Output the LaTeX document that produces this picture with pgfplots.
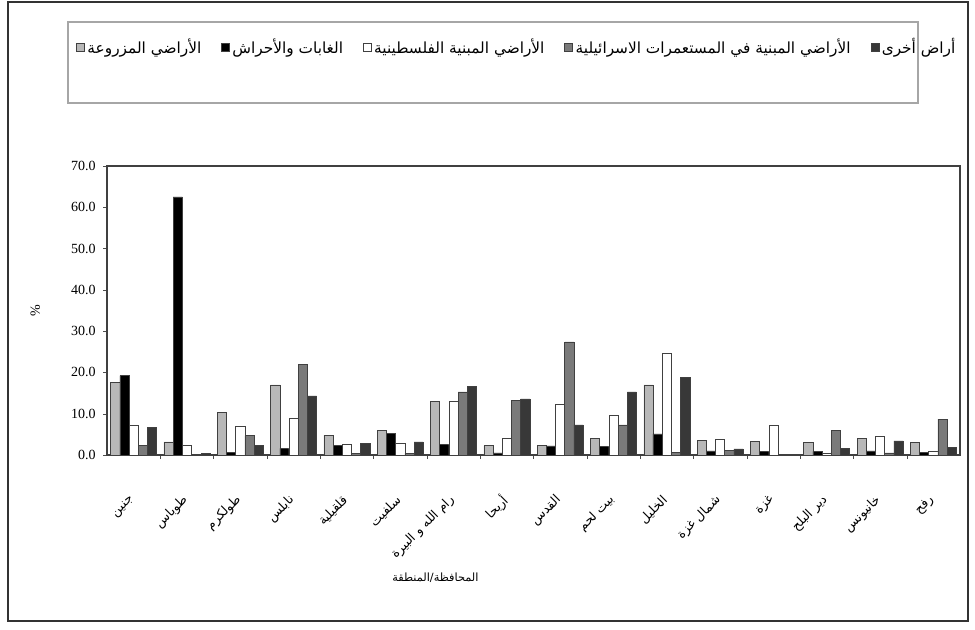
\documentclass[border=0pt]{standalone}
\usepackage{fontspec}
\usepackage{pgfplots}
\usepackage{pgfplotstable}
\pgfplotsset{compat=1.18}
\setmainfont{Liberation Serif}
\newfontfamily\arabicfont[Script=Arabic]{DejaVu Sans}
\TeXXeTstate=1

% Share of each land-use class by governorate (%)
% A: cultivated, B: forests, C: Palestinian built-up,
% D: built-up in Israeli settlements, E: other land
\pgfplotstableread{
idx A    B    C    D    E
0   17.5 19.2 7.1  2.4  6.6
1   3.2  62.5 2.3  0.2  0.3
2   10.3 0.7  6.9  4.7  2.3
3   17.0 1.6  9.0  22.0 14.3
4   4.8  2.4  2.6  0.4  2.8
5   6.0  5.2  2.8  0.4  3.2
6   12.9 2.6  12.9 15.3 16.7
7   2.3  0.5  4.1  13.2 13.6
8   2.4  2.2  12.2 27.4 7.3
9   4.1  2.0  9.7  7.3  15.3
10  17.0 5.1  24.6 0.6  18.8
11  3.6  1.0  3.7  1.1  1.5
12  3.3  0.8  7.1  0.2  0.2
13  3.1  0.9  0.4  6.0  1.6
14  4.0  1.0  4.6  0.5  3.4
15  3.1  0.7  1.0  8.7  1.8
}\landuse

\begin{document}
\begin{tikzpicture}
\path[use as bounding box] (0,0) rectangle (731.25pt,471.75pt);
\draw[black!80, line width=1pt] (6pt,6pt) rectangle (726pt,470.25pt);
% legend frame
\draw[black!35, line width=0.8pt] (51pt,394.5pt) rectangle (688.5pt,455.25pt);
\begin{axis}[
  at={(80.25pt,130.5pt)}, anchor=south west,
  width=639.75pt, height=216.75pt, scale only axis,
  ybar=0pt, bar width=6.9pt,
  xmin=-0.5, xmax=15.5, ymin=0, ymax=70,
  ytick distance=10,
  xtick={0,...,15},
  xticklabels={
    {\arabicfont\beginR جنين\endR},
    {\arabicfont\beginR طوباس\endR},
    {\arabicfont\beginR طولكرم\endR},
    {\arabicfont\beginR نابلس\endR},
    {\arabicfont\beginR قلقيلية\endR},
    {\arabicfont\beginR سلفيت\endR},
    {\arabicfont\beginR رام الله و البيرة\endR},
    {\arabicfont\beginR أريحا\endR},
    {\arabicfont\beginR القدس\endR},
    {\arabicfont\beginR بيت لحم\endR},
    {\arabicfont\beginR الخليل\endR},
    {\arabicfont\beginR شمال غزة\endR},
    {\arabicfont\beginR غزة\endR},
    {\arabicfont\beginR دير البلح\endR},
    {\arabicfont\beginR خانيونس\endR},
    {\arabicfont\beginR رفح\endR}},
  minor xtick={0.5,1.5,...,14.5},
  major x tick style={draw=none},
  tick align=outside,
  xtick pos=bottom, ytick pos=left,
  major tick length=3pt, minor tick length=3pt,
  tick style={black!70},
  axis line style={black!75, line width=0.8pt},
  /pgf/number format/assume math mode=true,
  yticklabel={\pgfmathprintnumber[fixed,fixed zerofill,precision=1]{\tick}},
  yticklabel style={font=\fontsize{10.5}{12}\selectfont, xshift=-2pt},
  xticklabel style={font=\fontsize{9.5}{11}\selectfont, rotate=45, anchor=east, yshift=-20pt, xshift=-18pt},
  ylabel={\%},
  every axis y label/.style={at={(axis description cs:-0.084,0.5)}, anchor=center, rotate=90, font=\fontsize{10.5}{12}\selectfont},
  xlabel={\arabicfont\beginR المحافظة/المنطقة\endR},
  every axis x label/.style={at={(axis description cs:0.385,-0.425)}, anchor=center, font=\fontsize{8.5}{10}\selectfont},
  legend columns=5,
  legend style={at={(axis description cs:-0.041,1.412)}, anchor=west, draw=none, fill=none,
    font=\fontsize{11.5}{13}\selectfont, /tikz/every even column/.append style={column sep=13pt}},
  legend image code/.code={\draw[#1] (0pt,-3pt) rectangle (6pt,3pt);},
  every axis plot/.append style={draw=black!75, line width=0.4pt},
]
\addplot[fill=black!28] table[x=idx,y=A]{\landuse};
\addplot[fill=black] table[x=idx,y=B]{\landuse};
\addplot[fill=white] table[x=idx,y=C]{\landuse};
\addplot[fill=black!52] table[x=idx,y=D]{\landuse};
\addplot[fill=black!78] table[x=idx,y=E]{\landuse};
\legend{
  {\arabicfont\beginR الأراضي المزروعة\endR},
  {\arabicfont\beginR الغابات والأحراش\endR},
  {\arabicfont\beginR الأراضي المبنية الفلسطينية\endR},
  {\arabicfont\beginR الأراضي المبنية في المستعمرات الاسرائيلية\endR},
  {\arabicfont\beginR أراض أخرى\endR}}
\end{axis}
\end{tikzpicture}
\end{document}
